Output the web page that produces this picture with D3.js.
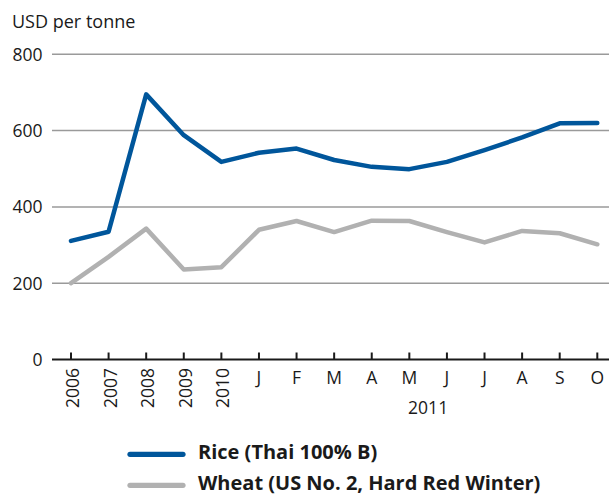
<!DOCTYPE html>
<html>
<head>
<meta charset="utf-8">
<script src="https://cdn.jsdelivr.net/npm/d3@7"></script>
<style>
  body { margin: 0; background: #fff; }
  svg text { font-family: 'Open Sans', sans-serif; fill: #1a1a1a; }
</style>
</head>
<body>
<div id="chart"></div>
<script>
const periods = ['2006', '2007', '2008', '2009', '2010', 'J1', 'F', 'M1', 'A1', 'M2', 'J2', 'J3', 'A2', 'S', 'O'];
const periodLabels = ['2006', '2007', '2008', '2009', '2010', 'J', 'F', 'M', 'A', 'M', 'J', 'J', 'A', 'S', 'O'];
const riceValues = [311, 335, 695, 588, 518, 542, 553, 523, 505, 499, 518, 549, 582, 619, 620];
const wheatValues = [200, 269, 343, 236, 242, 340, 363, 334, 364, 363, 334, 307, 337, 331, 302];
const yTicks = [0, 200, 400, 600, 800];
const seriesNames = ['Rice (Thai 100% B)', 'Wheat (US No. 2, Hard Red Winter)'];
const colours = ['#00569b', '#b1b1b1'];

function chart (conf) {
    let svg,
        x,
        y,
        line,
        width = conf.width,
        height = conf.height;

    svg = d3.select(conf.mountPoint)
        .append('svg')
            .attr('width', width)
            .attr('height', height);

    x = d3.scalePoint()
        .domain(periods)
        .range([71, 597.3]);

    y = d3.scaleLinear()
        .domain([0, 800])
        .range([359.5, 54.3]);

    // unit label
    svg.append('text')
        .attr('x', 12)
        .attr('y', 28)
        .style('font-size', '18px')
        .text('USD per tonne');

    // grid lines
    svg.append('g')
        .selectAll('line')
        .data(yTicks.filter(d => d > 0))
        .enter()
        .append('line')
            .attr('x1', 52)
            .attr('x2', width)
            .attr('y1', d => y(d))
            .attr('y2', d => y(d))
            .attr('stroke', '#9a9a9a')
            .attr('stroke-width', 1.5);

    svg.append('g')
        .selectAll('text')
        .data(yTicks)
        .enter()
        .append('text')
            .attr('x', 42.5)
            .attr('y', d => y(d))
            .attr('dy', '0.36em')
            .attr('text-anchor', 'end')
            .style('font-size', '17.5px')
            .text(d => d);

    // series, wheat first so rice sits on top
    line = d3.line()
        .x((d, i) => x(periods[i]))
        .y(d => y(d))
        .curve(d3.curveLinear);

    [wheatValues, riceValues].forEach((vals, i) => {
        svg.append('path')
            .datum(vals)
            .attr('d', line)
            .attr('fill', 'none')
            .attr('stroke', colours[1 - i])
            .attr('stroke-width', 4.5)
            .attr('stroke-linejoin', 'round')
            .attr('stroke-linecap', 'round');
    });

    // x axis
    svg.append('line')
        .attr('x1', 52)
        .attr('x2', width)
        .attr('y1', y(0))
        .attr('y2', y(0))
        .attr('stroke', '#1a1a1a')
        .attr('stroke-width', 2);

    svg.append('g')
        .selectAll('line')
        .data(periods)
        .enter()
        .append('line')
            .attr('x1', d => x(d))
            .attr('x2', d => x(d))
            .attr('y1', y(0) - 7)
            .attr('y2', y(0))
            .attr('stroke', '#1a1a1a')
            .attr('stroke-width', 2);

    svg.append('g')
        .selectAll('text')
        .data(periods)
        .enter()
        .append('text')
            .attr('transform', (d, i) => i < 5
                ? 'translate(' + (x(d) + 8) + ',' + 368 + ') rotate(-90)'
                : 'translate(' + x(d) + ',' + 384 + ')')
            .attr('text-anchor', (d, i) => i < 5 ? 'end' : 'middle')
            .style('font-size', '17.5px')
            .text((d, i) => periodLabels[i]);

    svg.append('text')
        .attr('x', (x('M2') + x('J2')) / 2)
        .attr('y', 414)
        .attr('text-anchor', 'middle')
        .style('font-size', '17.5px')
        .text('2011');

    // legend (kept clear of the bottom edge)
    const legend = svg.append('g')
        .selectAll('g')
        .data(seriesNames)
        .enter()
        .append('g')
            .attr('transform', (d, i) => 'translate(0,' + (454.3 + i * 31) + ')');

    legend.append('line')
        .attr('x1', 130)
        .attr('x2', 183)
        .attr('stroke', (d, i) => colours[i])
        .attr('stroke-width', 5.2)
        .attr('stroke-linecap', 'round');

    legend.append('text')
        .attr('x', 198)
        .attr('y', 4.5)
        .style('font-size', '20px')
        .style('font-weight', 'bold')
        .text(d => d);
}

chart({ mountPoint: '#chart', width: 609, height: 495 });
</script>
</body>
</html>
